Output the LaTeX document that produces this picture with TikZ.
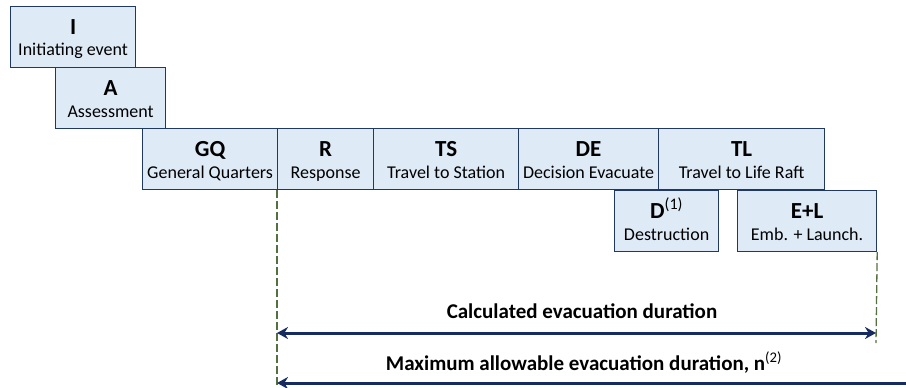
\documentclass[tikz,border=0pt]{standalone}
\usepackage{fontspec}
\setmainfont{Carlito}
\usetikzlibrary{arrows.meta}
\definecolor{boxfill}{RGB}{222,234,246}
\definecolor{boxline}{RGB}{32,56,100}
\definecolor{spanblue}{RGB}{22,44,96}
\definecolor{guidegreen}{RGB}{84,112,62}
\tikzset{
  phase/.style={draw=boxline,fill=boxfill,line width=1.2pt,anchor=north west,
    inner xsep=0pt,inner ysep=0pt,text height=28pt,text depth=33pt,
    font=\fontsize{23}{26}\selectfont\bfseries},
  sub/.style={anchor=base,inner sep=0pt,font=\fontsize{18}{20}\selectfont},
  guide/.style={draw=guidegreen,line width=1.3pt,dash pattern=on 8pt off 3pt},
  span/.style={draw=spanblue,line width=3pt},
  spanlabel/.style={anchor=base,inner sep=0pt,font=\fontsize{21}{24}\selectfont\bfseries},
}
\begin{document}
\begin{tikzpicture}[x=1pt,y=-1pt]
\useasboundingbox (0,0) rectangle (906,388);

\node(I) at (10,6)[phase,minimum width=125pt]        {I};
\node(A) at (55,67)[phase,minimum width=110pt]       {A};
\node(GQ) at (142,128)[phase,minimum width=135pt]    {GQ};
\node(R) at (277,128)[phase,minimum width=96pt]      {R};
\node(TS) at (373,128)[phase,minimum width=145pt]    {TS};
\node(DE) at (518,128)[phase,minimum width=140pt]    {DE};
\node(TL) at (658,128)[phase,minimum width=166pt]    {TL};
\node(D) at (614,190)[phase,minimum width=104pt]     {D\textsuperscript{\mdseries(1)}};
\node(EL) at (737,190)[phase,minimum width=139pt]    {E+L};

\node(Is) at ([yshift=-50pt]I.north)[sub]            {Initiating event};
\node(As) at ([yshift=-50pt]A.north)[sub]            {Assessment};
\node(GQs) at ([yshift=-50pt]GQ.north)[sub]          {General Quarters};
\node(Rs) at ([yshift=-50pt]R.north)[sub]            {Response};
\node(TSs) at ([yshift=-50pt]TS.north)[sub]          {Travel to Station};
\node(DEs) at ([yshift=-50pt]DE.north)[sub]          {Decision Evacuate};
\node(TLs) at ([yshift=-50pt]TL.north)[sub]          {Travel to Life Raft};
\node(Ds) at ([yshift=-50pt]D.north)[sub]            {Destruction};
\node(ELs) at ([yshift=-50pt]EL.north)[sub]          {Emb. + Launch.};

\coordinate(guideL) at (277,388);
\coordinate(guideR) at (876,343);
\coordinate(calcL) at (277,333);
\coordinate(calcR) at (876,333);
\coordinate(maxL) at (277,383);
\coordinate(maxR) at (906,383);

\draw[guide] (R.south west) -- (guideL);
\draw[guide] (EL.south east) -- (guideR);

\draw[span,{Stealth[length=11pt,width=12pt]}-{Stealth[length=11pt,width=12pt]}] (calcL) -- (calcR);
\draw[span,{Stealth[length=11pt,width=12pt]}-] (maxL) -- (maxR);

\node(calc) at (582,318)[spanlabel]   {Calculated evacuation duration};
\node(max) at (584,370)[spanlabel]    {Maximum allowable evacuation duration, n\textsuperscript{\mdseries(2)}};

\end{tikzpicture}
\end{document}
